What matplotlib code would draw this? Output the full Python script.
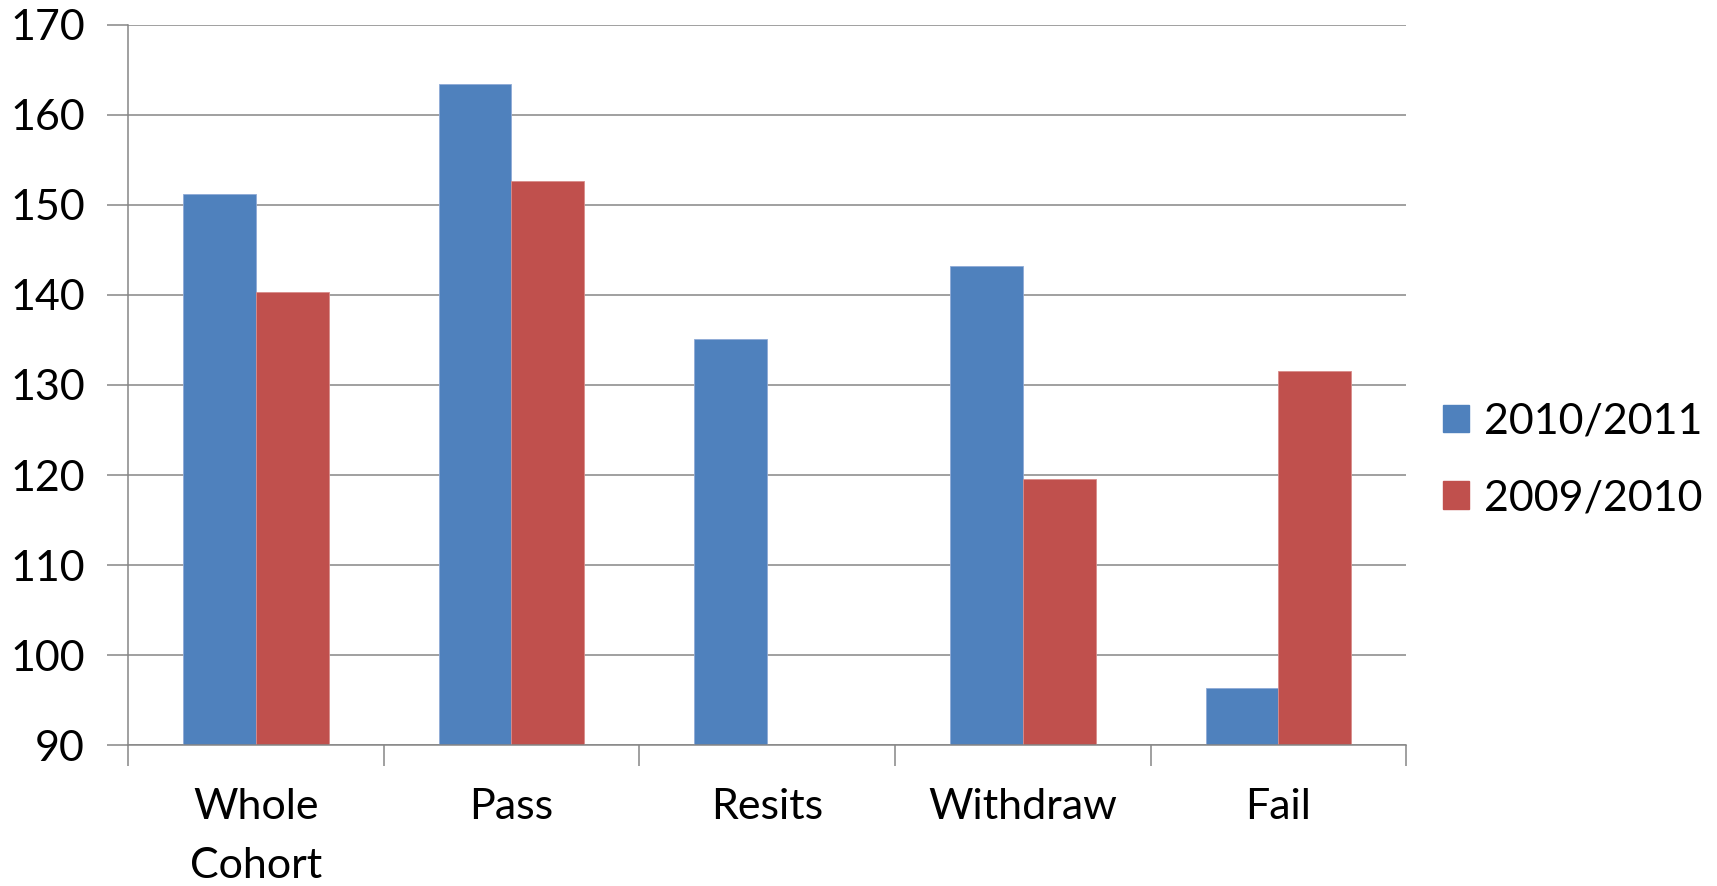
import matplotlib
matplotlib.use("Agg")
import matplotlib.pyplot as plt
import numpy as np
from matplotlib.patches import Patch

plt.rcParams["font.family"] = ["Lato", "DejaVu Sans"]

CATEGORIES = ["Whole\nCohort", "Pass", "Resits", "Withdraw", "Fail"]
SERIES_NAMES = ["2010/2011", "2009/2010"]
VALUES_2010_2011 = [151.2, 163.4, 135.1, 143.2, 96.3]
VALUES_2009_2010 = [140.3, 152.7, np.nan, 119.6, 131.5]
Y_TICKS = [90, 100, 110, 120, 130, 140, 150, 160, 170]

BLUE = "#4F81BD"
RED = "#C0504D"
GRID = "#868686"
FONT_SIZE = 31

fig = plt.figure(figsize=(17.17, 8.86), dpi=100)
ax = fig.add_axes([0.0745, 0.159, 0.7445, 0.813])

x = np.arange(len(CATEGORIES))
width = 0.285
ax.bar(x - width / 2, VALUES_2010_2011, width, color=BLUE, zorder=2,
       edgecolor="#8FAAD6", linewidth=0.6, label=SERIES_NAMES[0])
ax.bar(x + width / 2, VALUES_2009_2010, width, color=RED, zorder=2,
       edgecolor="#D98C8A", linewidth=0.6, label=SERIES_NAMES[1])

ax.set_xlim(-0.5, len(CATEGORIES) - 0.5)
ax.set_ylim(Y_TICKS[0], Y_TICKS[-1])
ax.set_yticks(Y_TICKS)
ax.yaxis.grid(True, color=GRID, lw=1.1, zorder=1)
ax.set_axisbelow(True)

# category boundary ticks, labels in the middle
ax.set_xticks(np.arange(len(CATEGORIES) + 1) - 0.5)
ax.set_xticklabels([])
ax.set_xticks(x, minor=True)
ax.set_xticklabels(CATEGORIES, minor=True, fontsize=FONT_SIZE, linespacing=1.68)
ax.tick_params(axis="x", which="major", length=15, width=1.1, color=GRID)
ax.tick_params(axis="x", which="minor", length=0, pad=31)
ax.tick_params(axis="y", length=15, width=1.1, color=GRID, pad=16,
               labelsize=FONT_SIZE)

for side in ["top", "right"]:
    ax.spines[side].set_visible(False)
for side in ["left", "bottom"]:
    ax.spines[side].set_color(GRID)
    ax.spines[side].set_linewidth(1.1)

handles = [Patch(color=BLUE), Patch(color=RED)]
fig.legend(handles, SERIES_NAMES, loc="center left",
           bbox_to_anchor=(0.818, 0.481), frameon=False, fontsize=FONT_SIZE,
           handlelength=0.6, handleheight=0.6, handletextpad=0.35,
           labelspacing=0.9)

fig.savefig("out.png", dpi=100)
